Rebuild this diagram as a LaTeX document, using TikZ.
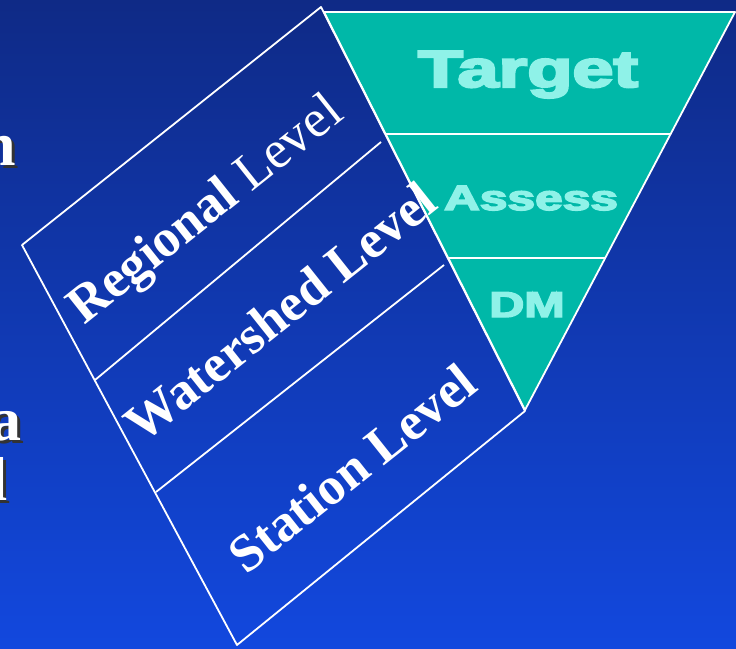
\documentclass[tikz,border=0pt]{standalone}
\usepackage{fontspec}
\setmainfont{Liberation Serif}
\newfontfamily\stagefont{Liberation Sans}[BoldFeatures={FakeBold=4}]
\usetikzlibrary{calc}

\definecolor{skytop}{HTML}{0F2A86}
\definecolor{skybottom}{HTML}{1248DE}
\definecolor{funnelfill}{HTML}{00B8A8}
\definecolor{funneltext}{HTML}{8FF2E8}

\begin{document}
\begin{tikzpicture}[
      x=1pt, y=-1pt,
      edge/.style={draw=white, line width=1.8pt},
      band/.style={text=white, inner sep=0pt, rotate=38.5, font=\bfseries\fontsize{53}{53}\selectfont},
      stage/.style={text=funneltext, inner sep=0pt, anchor=base, xscale=1.42},
      cut/.style={inner sep=0pt, anchor=base east, font=\bfseries\fontsize{62}{62}\selectfont}
    ]
    \useasboundingbox (0,0) rectangle (736,648);
    \shade[top color=skytop, bottom color=skybottom] (0,0) rectangle (736,648);

    % funnel corners
    \coordinate (ftl) at (324,12);
    \coordinate (ftr) at (735,12);
    \coordinate (fbot) at (525,410);
    \coordinate (f1l) at (386,134);
    \coordinate (f1r) at (671,134);
    \coordinate (f2l) at (449,258);
    \coordinate (f2r) at (606,258);

    % tilted block corners
    \coordinate (btl) at (22,245);
    \coordinate (btr) at (321,7);
    \coordinate (bbr) at (525,411);
    \coordinate (bbl) at (237,645);
    \coordinate (b1l) at (95,380);
    \coordinate (b1r) at (381,142);
    \coordinate (b2l) at (156,492);
    \coordinate (b2r) at (444,265);

    \fill[funnelfill] (ftl) -- (ftr) -- (fbot) -- cycle;
    \draw[edge, line join=round] (ftl) -- (ftr) -- (fbot) -- cycle;
    \draw[edge] (f1l) -- (f1r);
    \draw[edge] (f2l) -- (f2r);

    \draw[edge, line join=round] (btl) -- (btr) -- (bbr) -- (bbl) -- cycle;
    \draw[edge] (b1l) -- (b1r);
    \draw[edge] (b2l) -- (b2r);

    \node[stage, font=\stagefont\bfseries\fontsize{52}{52}\selectfont] (target) at (528,87) {Target};
    \node[stage, font=\stagefont\bfseries\fontsize{35}{35}\selectfont] (assess) at (531,210) {Assess};
    \node[stage, xscale=0.95, font=\stagefont\bfseries\fontsize{36}{36}\selectfont] (dm) at (527,317) {DM};

    \node[band] (regional) at (207,212) {Regional \mdseries Level};
    \node[band] (watershed) at (280,312) {Watershed Level};
    \node[band] (station) at (352,468) {Station Level};

    % words running in from the left
    \node[cut, text=black!80] (nshade) at (19,168) {n};
    \node[cut, text=white] (nword) at (16,165) {n};
    \node[cut, text=black!80] (ashade) at (25,443) {a};
    \node[cut, text=white] (aword) at (22,440) {a};
    \node[cut, text=black!80] (lshade) at (11,503) {l};
    \node[cut, text=white] (lword) at (8,500) {l};
  \end{tikzpicture}
\end{document}
